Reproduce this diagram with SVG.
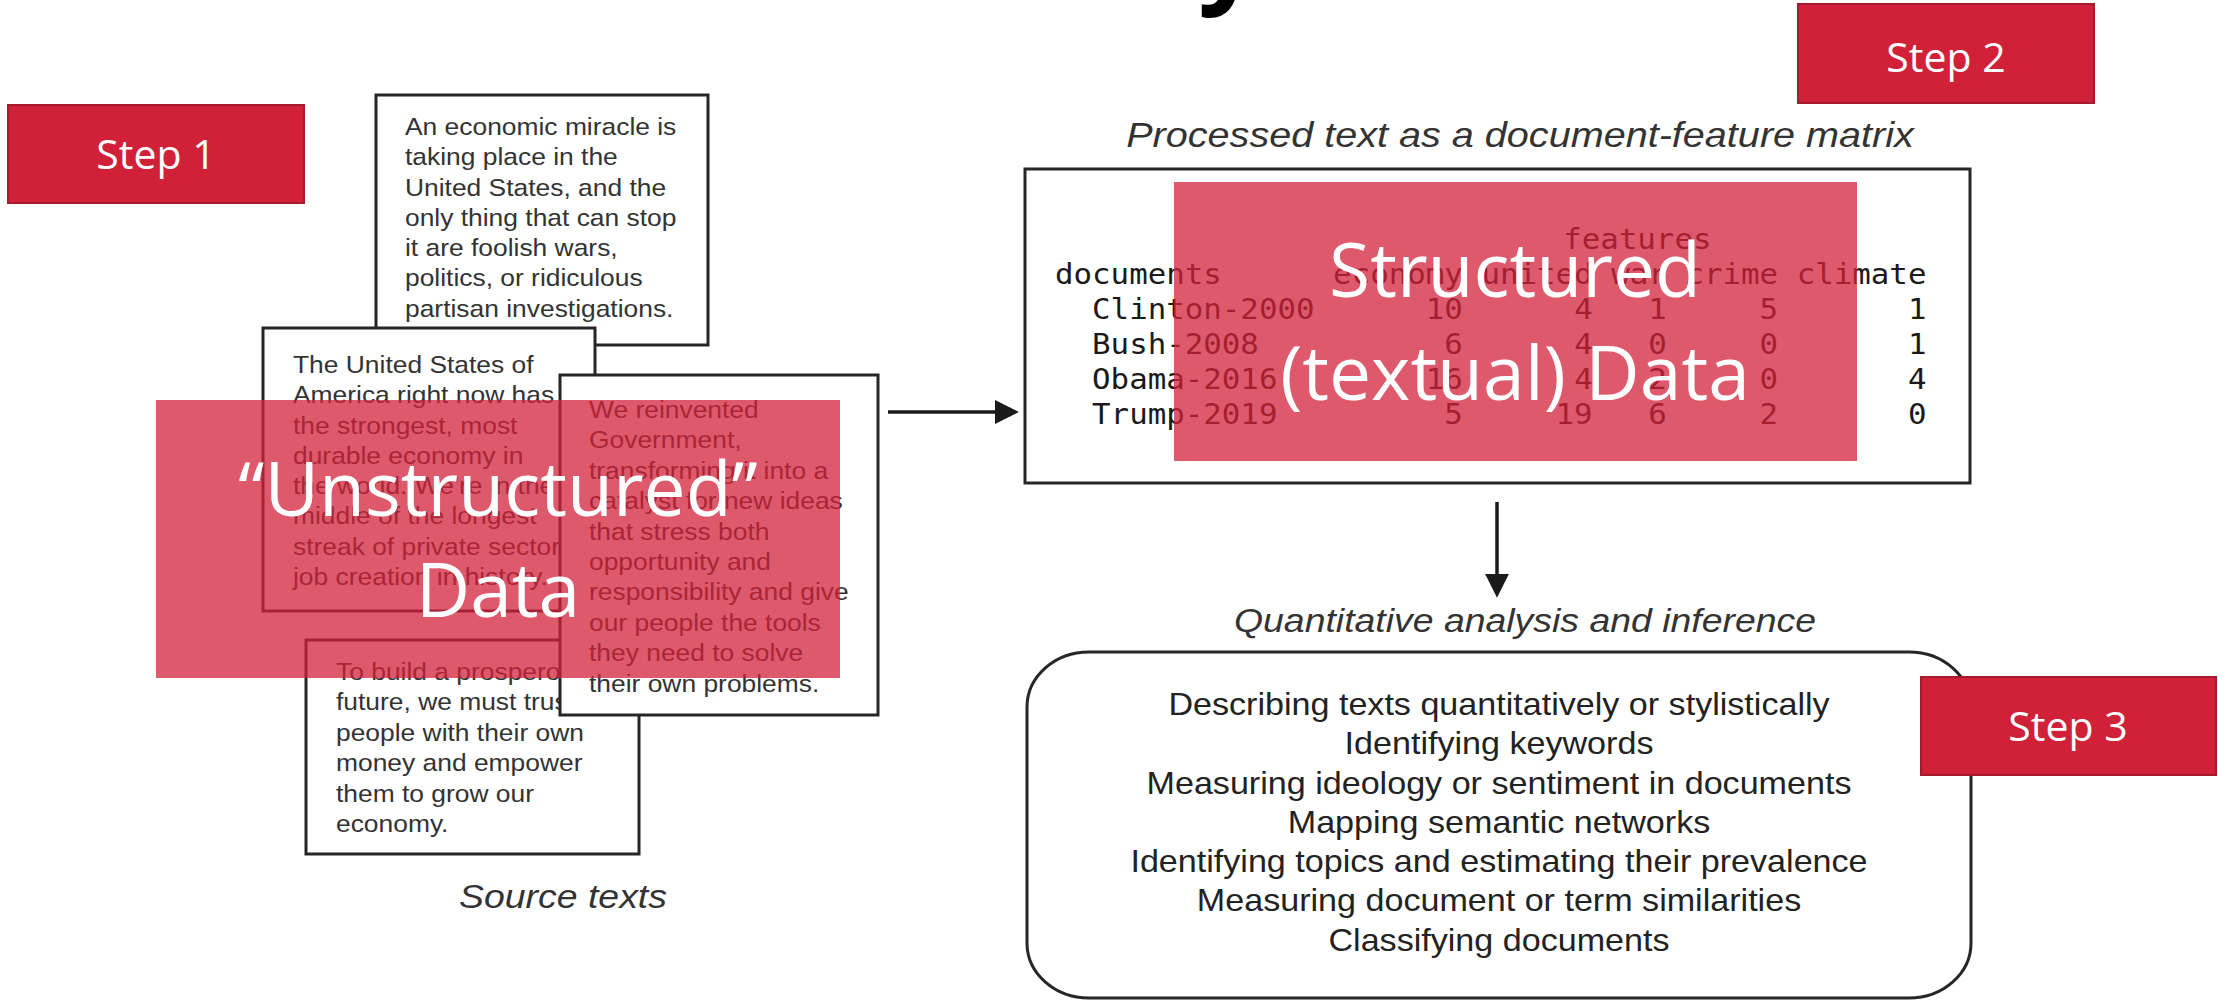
<svg xmlns="http://www.w3.org/2000/svg" width="2218" height="1000" viewBox="0 0 2218 1000">
  <style>
    .box { fill: #ffffff; stroke: #262626; stroke-width: 3; }
    .src { font-family: "Liberation Sans", Arial, sans-serif; font-size: 24px; fill: #333333; }
    .lbl { font-family: "Liberation Sans", Arial, sans-serif; font-style: italic; fill: #333333; }
    .lst { font-family: "Liberation Sans", Arial, sans-serif; font-size: 31px; fill: #222222; text-anchor: middle; }
    .mono { font-family: "DejaVu Sans Mono", "Liberation Mono", monospace; font-size: 28px; fill: #1a1a1a; }
    .num { text-anchor: end; }
    .step rect { fill: #d12139; stroke: #a61a2e; stroke-width: 2; }
    .step text { font-family: "Open Sans", "Noto Sans", sans-serif; font-size: 41px; fill: #ffffff; text-anchor: middle; }
    .veil rect { fill: #d12139; fill-opacity: 0.75; }
    .veil text { font-family: "Open Sans", "Noto Sans", sans-serif; font-size: 75px; fill: #ffffff; text-anchor: middle; }
    .conn { stroke: #1a1a1a; stroke-width: 3.5; fill: none; }
    .title { font-family: "Open Sans", "Noto Sans", sans-serif; font-weight: 700; font-size: 110px; fill: #000000; }
  </style>
  <defs>
    <marker id="head" markerUnits="userSpaceOnUse" markerWidth="24" markerHeight="24" viewBox="0 0 22 22" refX="2" refY="11" orient="auto">
      <path d="M0,0 L22,11 L0,22 z" fill="#1a1a1a"/>
    </marker>
  </defs>

  <rect width="2218" height="1000" fill="#ffffff"/>

  <!-- title line, clipped by the top edge -->
  <text class="title" x="1198" y="-8">y</text>

  <!-- source documents -->
  <g id="doc-trump">
    <rect class="box" x="376" y="95" width="332" height="250"/>
    <g class="src" transform="translate(405 0) scale(1.1 1)">
      <text x="0" y="135">An economic miracle is</text>
      <text x="0" y="165.3">taking place in the</text>
      <text x="0" y="195.6">United States, and the</text>
      <text x="0" y="225.9">only thing that can stop</text>
      <text x="0" y="256.2">it are foolish wars,</text>
      <text x="0" y="286.5">politics, or ridiculous</text>
      <text x="0" y="316.8">partisan investigations.</text>
    </g>
  </g>

  <g id="doc-obama">
    <rect class="box" x="263" y="328" width="332" height="283"/>
    <g class="src" transform="translate(293 0) scale(1.1 1)">
      <text x="0" y="373">The United States of</text>
      <text x="0" y="403.3">America right now has</text>
      <text x="0" y="433.6">the strongest, most</text>
      <text x="0" y="463.9">durable economy in</text>
      <text x="0" y="494.2">the world. We're in the</text>
      <text x="0" y="524.5">middle of the longest</text>
      <text x="0" y="554.8">streak of private sector</text>
      <text x="0" y="585.1">job creation in history.</text>
    </g>
  </g>

  <g id="doc-bush">
    <rect class="box" x="306" y="640" width="333" height="214"/>
    <g class="src" transform="translate(336 0) scale(1.1 1)">
      <text x="0" y="680">To build a prosperous</text>
      <text x="0" y="710.4">future, we must trust</text>
      <text x="0" y="740.8">people with their own</text>
      <text x="0" y="771.2">money and empower</text>
      <text x="0" y="801.6">them to grow our</text>
      <text x="0" y="832">economy.</text>
    </g>
  </g>

  <g id="doc-clinton">
    <rect class="box" x="560" y="375" width="318" height="340"/>
    <g class="src" transform="translate(589 0) scale(1.1 1)">
      <text x="0" y="418">We reinvented</text>
      <text x="0" y="448.4">Government,</text>
      <text x="0" y="478.8">transforming it into a</text>
      <text x="0" y="509.2">catalyst for new ideas</text>
      <text x="0" y="539.6">that stress both</text>
      <text x="0" y="570">opportunity and</text>
      <text x="0" y="600.4">responsibility and give</text>
      <text x="0" y="630.8">our people the tools</text>
      <text x="0" y="661.2">they need to solve</text>
      <text x="0" y="691.6">their own problems.</text>
    </g>
  </g>

  <g id="label-source" class="lbl" transform="translate(563 0) scale(1.1 1)">
    <text x="0" y="908" font-size="34" text-anchor="middle">Source texts</text>
  </g>

  <!-- document-feature matrix -->
  <g id="label-dfm" class="lbl" transform="translate(1520 0) scale(1.1 1)">
    <text x="0" y="147" font-size="36" text-anchor="middle">Processed text as a document-feature matrix</text>
  </g>

  <g id="dfm">
    <rect class="box" x="1025" y="169" width="945" height="314"/>
    <g class="mono" transform="translate(1055 0) scale(1.1 1)">
      <text x="462" y="249">features</text>
      <text x="0" y="284">documents</text>
      <text class="num" x="370.8" y="284">economy</text>
      <text class="num" x="488.8" y="284">united</text>
      <text class="num" x="556.2" y="284">war</text>
      <text class="num" x="657.4" y="284">crime</text>
      <text class="num" x="792.2" y="284">climate</text>

      <text x="33.7" y="319">Clinton-2000</text>
      <text class="num" x="370.8" y="319">10</text>
      <text class="num" x="488.8" y="319">4</text>
      <text class="num" x="556.2" y="319">1</text>
      <text class="num" x="657.4" y="319">5</text>
      <text class="num" x="792.2" y="319">1</text>

      <text x="33.7" y="354">Bush-2008</text>
      <text class="num" x="370.8" y="354">6</text>
      <text class="num" x="488.8" y="354">4</text>
      <text class="num" x="556.2" y="354">0</text>
      <text class="num" x="657.4" y="354">0</text>
      <text class="num" x="792.2" y="354">1</text>

      <text x="33.7" y="389">Obama-2016</text>
      <text class="num" x="370.8" y="389">16</text>
      <text class="num" x="488.8" y="389">4</text>
      <text class="num" x="556.2" y="389">2</text>
      <text class="num" x="657.4" y="389">0</text>
      <text class="num" x="792.2" y="389">4</text>

      <text x="33.7" y="424">Trump-2019</text>
      <text class="num" x="370.8" y="424">5</text>
      <text class="num" x="488.8" y="424">19</text>
      <text class="num" x="556.2" y="424">6</text>
      <text class="num" x="657.4" y="424">2</text>
      <text class="num" x="792.2" y="424">0</text>
    </g>
  </g>

  <!-- analysis tasks -->
  <g id="label-analysis" class="lbl" transform="translate(1525 0) scale(1.1 1)">
    <text x="0" y="632" font-size="34" text-anchor="middle">Quantitative analysis and inference</text>
  </g>

  <g id="analysis">
    <rect class="box" x="1027" y="652" width="944" height="346" rx="62" ry="55"/>
    <g class="lst" transform="translate(1499 0) scale(1.1 1)">
      <text x="0" y="715">Describing texts quantitatively or stylistically</text>
      <text x="0" y="754.3">Identifying keywords</text>
      <text x="0" y="793.6">Measuring ideology or sentiment in documents</text>
      <text x="0" y="832.9">Mapping semantic networks</text>
      <text x="0" y="872.2">Identifying topics and estimating their prevalence</text>
      <text x="0" y="911.5">Measuring document or term similarities</text>
      <text x="0" y="950.8">Classifying documents</text>
    </g>
  </g>

  <!-- connectors -->
  <g id="connectors">
    <line class="conn" x1="888" y1="412" x2="997" y2="412" marker-end="url(#head)"/>
    <line class="conn" x1="1497" y1="502" x2="1497" y2="576" marker-end="url(#head)"/>
  </g>

  <!-- translucent captions over the figure -->
  <g id="veil-unstructured" class="veil">
    <rect x="156" y="400" width="684" height="278"/>
    <text x="498" y="516">“Unstructured”</text>
    <text x="498" y="617">Data</text>
  </g>

  <g id="veil-structured" class="veil">
    <rect x="1174" y="182" width="683" height="279"/>
    <text x="1515" y="297" font-size="74">Structured</text>
    <text x="1515" y="400" font-size="74">(textual) Data</text>
  </g>

  <!-- step tags -->
  <g id="step1" class="step">
    <rect x="8" y="105" width="296" height="98"/>
    <text x="156" y="169">Step 1</text>
  </g>
  <g id="step2" class="step">
    <rect x="1798" y="4" width="296" height="99"/>
    <text x="1946" y="72">Step 2</text>
  </g>
  <g id="step3" class="step">
    <rect x="1921" y="677" width="295" height="98"/>
    <text x="2068" y="741">Step 3</text>
  </g>
</svg>
